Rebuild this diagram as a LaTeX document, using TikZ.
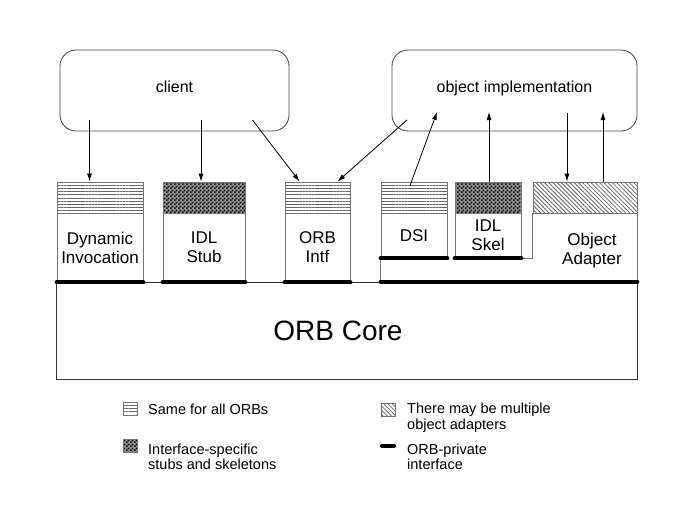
\documentclass[tikz,border=0pt]{standalone}
\usepackage{fontspec}
\setmainfont{Liberation Sans}
\usetikzlibrary{arrows.meta,patterns.meta}
\tikzdeclarepattern{name=finecheck,type=uncolored,
  bottom left={(0pt,0pt)},top right={(3.6pt,3.6pt)},tile size={(3.6pt,3.6pt)},
  code={\fill (0pt,0pt) rectangle (1.8pt,1.8pt); \fill (1.8pt,1.8pt) rectangle (3.6pt,3.6pt);}}
\tikzstyle{party}=[rectangle,rounded corners=16pt,draw=black!75,line width=0.8pt,
  inner sep=0pt,text depth=7pt,font=\fontsize{16}{18}\selectfont]
\tikzstyle{samebox}=[rectangle,draw=black!55,line width=0.8pt,inner sep=0pt,
  minimum height=31pt,pattern={Lines[distance=3.1pt,line width=0.9pt]},pattern color=black!60]
\tikzstyle{specbox}=[rectangle,draw=black!55,line width=0.8pt,inner sep=0pt,
  minimum height=31pt,preaction={fill=black!40},pattern=finecheck,pattern color=black]
\tikzstyle{multibox}=[rectangle,draw=black!55,line width=0.8pt,inner sep=0pt,
  minimum height=31pt,pattern={Lines[angle=-45,distance=3pt,line width=0.8pt]},pattern color=black!60]
\tikzstyle{part}=[rectangle,draw=black!55,line width=0.8pt,inner sep=0pt,align=center,
  font=\fontsize{17}{19}\selectfont]
\tikzstyle{core}=[rectangle,draw=black!80,line width=0.8pt,inner sep=0pt]
\tikzstyle{wall}=[draw=black!55,line width=0.8pt]
\tikzstyle{private}=[line width=4pt,line cap=round]
\tikzstyle{call}=[-{Latex[length=8pt,width=5pt]},line width=0.8pt]
\tikzstyle{legend}=[anchor=west,align=left,inner sep=0pt,font=\fontsize{14.5}{15.5}\selectfont]
\tikzstyle{none}=[]
\begin{document}
\begin{tikzpicture}[x=1pt,y=-1pt]
    \useasboundingbox (0,0) rectangle (692,508);
    \node [style=party, minimum width=229pt, minimum height=81pt] (0) at (174.5, 90.5) {client};
    \node [style=party, minimum width=245pt, minimum height=81pt] (1) at (514.5, 90.5) {object implementation};
    \node [style=samebox, minimum width=86pt] (2) at (100, 197.5) {};
    \node [style=specbox, minimum width=82pt] (3) at (204, 197.5) {};
    \node [style=samebox, minimum width=65pt] (4) at (317.5, 197.5) {};
    \node [style=samebox, minimum width=66pt] (5) at (414, 197.5) {};
    \node [style=specbox, minimum width=66pt] (6) at (488, 197.5) {};
    \node [style=multibox, minimum width=104pt] (7) at (585, 197.5) {};
    \node [style=part, minimum width=86pt, minimum height=69pt] (8) at (100, 247.5) {Dynamic\\Invocation};
    \node [style=part, minimum width=82pt, minimum height=69pt] (9) at (204, 247.5) {IDL\\Stub};
    \node [style=part, minimum width=65pt, minimum height=69pt] (10) at (317.5, 247.5) {ORB\\Intf};
    \node [style=part, minimum width=66pt, minimum height=45pt] (11) at (414, 235.5) {DSI};
    \node [style=part, minimum width=66pt, minimum height=45pt] (12) at (488, 235.5) {IDL\\Skel};
    \node [style=part, draw=none] (13) at (592, 251) {Object\\Adapter};
    \node [style=core, minimum width=581pt, minimum height=97pt] (14) at (346.5, 330.5) {};
    \node [style=none, font=\fontsize{28}{30}\selectfont] (15) at (338, 331) {ORB Core};
    \coordinate (16) at (89.5, 120);
    \coordinate (17) at (201, 120);
    \coordinate (18) at (252.5, 120);
    \coordinate (19) at (407, 120);
    \coordinate (20) at (437, 112);
    \coordinate (21) at (489, 112);
    \coordinate (22) at (567, 113);
    \coordinate (23) at (603, 112);
    \node [style=samebox, minimum width=14pt, minimum height=13pt] (24) at (130, 408.5) {};
    \node [style=legend] (25) at (148, 409) {Same for all ORBs};
    \node [style=specbox, minimum width=14pt, minimum height=13pt] (26) at (130, 445.5) {};
    \node [style=legend] (27) at (148, 457) {Interface-specific\\stubs and skeletons};
    \node [style=multibox, minimum width=14pt, minimum height=13pt] (28) at (388, 409.5) {};
    \node [style=legend] (29) at (407, 417.5) {There may be multiple\\object adapters};
    \coordinate (30) at (382, 446);
    \coordinate (31) at (394, 446);
    \node [style=legend] (32) at (407, 457) {ORB-private\\interface};
    \draw [style=wall] (7.south west) |- (12.south east);
    \draw [style=wall] (7.south east) to (7.south east |- 14.north);
    \draw [style=wall] (11.south west) to (11.south west |- 14.north);
    \draw [style=private] (8.south west) to (8.south east);
    \draw [style=private] (9.south west) to (9.south east);
    \draw [style=private] (10.south west) to (10.south east);
    \draw [style=private] (11.south west) to (11.south east);
    \draw [style=private] (12.south west) to (12.south east);
    \draw [style=private] (11.south west |- 14.north) to (14.north east);
    \draw [style=private] (30) to (31);
    \draw [style=call] (16) to (16 |- 2.north);
    \draw [style=call] (17) to (17 |- 3.north);
    \draw [style=call] (18) to ([xshift=15pt]4.north west);
    \draw [style=call] (19) to ([xshift=-13pt]4.north east);
    \draw [style=call] ([xshift=-4pt,yshift=-4pt]5.north) to (20);
    \draw [style=call] (21 |- 6.north) to (21);
    \draw [style=call] (22) to (22 |- 7.north);
    \draw [style=call] (23 |- 7.north) to (23);
\end{tikzpicture}
\end{document}
